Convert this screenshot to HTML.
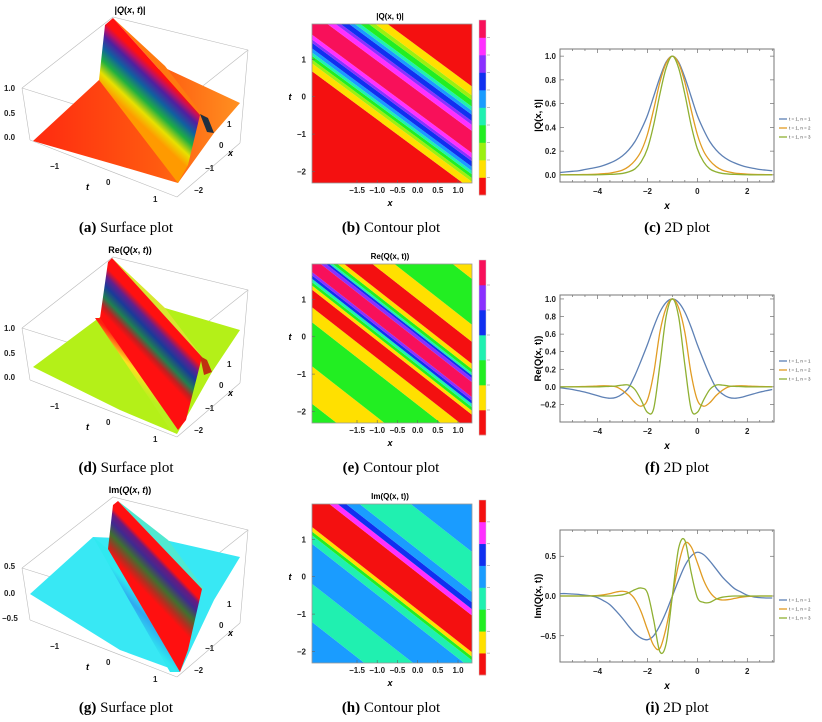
<!DOCTYPE html>
<html><head><meta charset="utf-8"><style>
html,body{margin:0;padding:0;background:#fff;overflow:hidden;width:822px;height:722px;}
svg{display:block;}
svg text{font-family:"Liberation Sans",sans-serif;}
.cap{font-family:"Liberation Serif",serif;font-size:15px;}
.tk{font-size:8px;font-weight:bold;fill:#222;}
</style></head><body>
<svg id="fig" width="822" height="722" viewBox="0 0 822 722" xmlns="http://www.w3.org/2000/svg">
<defs>
<linearGradient id="ridgeA" gradientUnits="userSpaceOnUse" x1="128" y1="112" x2="162" y2="76">
<stop offset="0" stop-color="#ff9a00"/><stop offset="0.2" stop-color="#e8e000"/><stop offset="0.4" stop-color="#20b040"/><stop offset="0.6" stop-color="#1060a0"/><stop offset="0.78" stop-color="#5020a0"/><stop offset="0.9" stop-color="#c01060"/><stop offset="1" stop-color="#ff1010"/></linearGradient>
<linearGradient id="ridgeD" gradientUnits="userSpaceOnUse" x1="140" y1="352" x2="165" y2="328">
<stop offset="0" stop-color="#ff1010"/><stop offset="0.15" stop-color="#c02020"/><stop offset="0.35" stop-color="#208050"/><stop offset="0.6" stop-color="#1a3a9a"/><stop offset="0.8" stop-color="#602090"/><stop offset="1" stop-color="#ff1010"/></linearGradient>
<linearGradient id="ridgeG" gradientUnits="userSpaceOnUse" x1="145" y1="592" x2="170" y2="568">
<stop offset="0" stop-color="#ff1010"/><stop offset="0.2" stop-color="#b03020"/><stop offset="0.45" stop-color="#407030"/><stop offset="0.7" stop-color="#402a90"/><stop offset="0.88" stop-color="#6a1a80"/><stop offset="1" stop-color="#ff1010"/></linearGradient>
<linearGradient id="planeA" x1="0" y1="0" x2="1" y2="0"><stop offset="0" stop-color="#ff2a10"/><stop offset="0.6" stop-color="#ff5a10"/><stop offset="1" stop-color="#ff9020"/></linearGradient>
<linearGradient id="footD" gradientUnits="userSpaceOnUse" x1="118" y1="372" x2="135" y2="352"><stop offset="0" stop-color="#b8f020"/><stop offset="0.5" stop-color="#ffe020"/><stop offset="1" stop-color="#ff2010"/></linearGradient>
<linearGradient id="footG" gradientUnits="userSpaceOnUse" x1="120" y1="615" x2="140" y2="595"><stop offset="0" stop-color="#30e8f0"/><stop offset="0.6" stop-color="#30a8f0"/><stop offset="1" stop-color="#30e8f0"/></linearGradient>
</defs>

<g stroke-linejoin="round">
 <g stroke="#bbb" stroke-width="0.6" fill="none">
  <polyline points="22,88 113,17 248,50 240,143"/><line x1="22" y1="88" x2="30" y2="140"/><line x1="30" y1="140" x2="177" y2="197"/><line x1="177" y1="197" x2="240" y2="143"/><line x1="22" y1="88" x2="150" y2="128"/><line x1="150" y1="128" x2="248" y2="50"/>
 </g>
 <polygon points="33,141 99,80 165,68 240,103 214,133 178,183 120,166" fill="url(#planeA)"/>
 <polygon points="113,18 165,66 205,118 200,115" fill="#ff7a10"/>
 <polygon points="200,114 208,118 214,133 207,132" fill="#203040"/>
 <polygon points="99,80 105,25 113,18 200,115 188,165 178,183" fill="url(#ridgeA)"/>
 <text x="130" y="13" text-anchor="middle" font-size="9" font-weight="bold">|<tspan font-style="italic">Q</tspan>(<tspan font-style="italic">x</tspan>, <tspan font-style="italic">t</tspan>)|</text>
 <g class="tk"><text x="4" y="91">1.0</text><text x="4" y="116">0.5</text><text x="4" y="140">0.0</text>
 <text x="50" y="169">−1</text><text x="106" y="185">0</text><text x="153" y="202">1</text>
 <text x="227" y="127">1</text><text x="219" y="148">0</text><text x="205" y="171">−1</text><text x="194" y="193">−2</text></g>
 <text x="86" y="190" font-size="9" font-weight="bold" font-style="italic">t</text><text x="228" y="156" font-size="9" font-weight="bold" font-style="italic">x</text>
</g>

<g>
 <g stroke="#bbb" stroke-width="0.6" fill="none">
  <polyline points="22,328 113,257 248,290 240,383"/><line x1="22" y1="328" x2="30" y2="380"/><line x1="30" y1="380" x2="177" y2="437"/><line x1="177" y1="437" x2="240" y2="383"/><line x1="22" y1="328" x2="150" y2="368"/><line x1="150" y1="368" x2="248" y2="290"/>
 </g>
 <polygon points="33,367 100,317 165,308 240,330 212,372 177,434 120,410" fill="#b4f018"/>
 <polygon points="112,258 165,308 203,358 200,356" fill="#d8e830"/>
 <polygon points="95,318 103,318 178,430 172,432" fill="url(#footD)"/>
 <polygon points="100,318 108,262 112,258 202,357 186,420 178,430" fill="url(#ridgeD)"/>
 <polygon points="200,356 207,360 212,372 204,375" fill="#c03010"/>
 <text x="130" y="253" text-anchor="middle" font-size="9" font-weight="bold">Re(<tspan font-style="italic">Q</tspan>(<tspan font-style="italic">x</tspan>, <tspan font-style="italic">t</tspan>))</text>
 <g class="tk"><text x="4" y="331">1.0</text><text x="4" y="356">0.5</text><text x="4" y="380">0.0</text>
 <text x="50" y="409">−1</text><text x="106" y="425">0</text><text x="153" y="442">1</text>
 <text x="227" y="367">1</text><text x="219" y="388">0</text><text x="205" y="411">−1</text><text x="194" y="433">−2</text></g>
 <text x="86" y="430" font-size="9" font-weight="bold" font-style="italic">t</text><text x="228" y="396" font-size="9" font-weight="bold" font-style="italic">x</text>
</g>

<g>
 <g stroke="#bbb" stroke-width="0.6" fill="none">
  <polyline points="22,568 113,497 248,530 240,623"/><line x1="22" y1="568" x2="30" y2="620"/><line x1="30" y1="620" x2="177" y2="677"/><line x1="177" y1="677" x2="240" y2="623"/><line x1="22" y1="568" x2="150" y2="608"/><line x1="150" y1="608" x2="248" y2="530"/>
 </g>
 <polygon points="30,594 93,537 165,540 240,557 214,600 180,672 120,650" fill="#38e8f4"/>
 <polygon points="93,537 108,549 180,672 170,672" fill="url(#footG)"/>
 <polygon points="118,501 168,540 205,590 200,588" fill="#50e8d0"/>
 <polygon points="108,549 113,505 118,501 202,589 188,650 180,672" fill="url(#ridgeG)"/>
 <text x="130" y="493" text-anchor="middle" font-size="9" font-weight="bold">Im(<tspan font-style="italic">Q</tspan>(<tspan font-style="italic">x</tspan>, <tspan font-style="italic">t</tspan>))</text>
 <g class="tk"><text x="4" y="569">0.5</text><text x="4" y="596">0.0</text><text x="2" y="621">−0.5</text>
 <text x="50" y="649">−1</text><text x="106" y="665">0</text><text x="153" y="682">1</text>
 <text x="227" y="607">1</text><text x="219" y="628">0</text><text x="205" y="651">−1</text><text x="194" y="673">−2</text></g>
 <text x="86" y="670" font-size="9" font-weight="bold" font-style="italic">t</text><text x="228" y="636" font-size="9" font-weight="bold" font-style="italic">x</text>
</g>

<g id="contours"></g>
<g id="lines"></g>

<g>
 <text class="cap" x="126" y="232" text-anchor="middle"><tspan font-weight="bold">(a)</tspan> Surface plot</text>
 <text class="cap" x="391" y="232" text-anchor="middle"><tspan font-weight="bold">(b)</tspan> Contour plot</text>
 <text class="cap" x="677" y="232" text-anchor="middle"><tspan font-weight="bold">(c)</tspan> 2D plot</text>
 <text class="cap" x="126" y="472" text-anchor="middle"><tspan font-weight="bold">(d)</tspan> Surface plot</text>
 <text class="cap" x="391" y="472" text-anchor="middle"><tspan font-weight="bold">(e)</tspan> Contour plot</text>
 <text class="cap" x="677" y="472" text-anchor="middle"><tspan font-weight="bold">(f)</tspan> 2D plot</text>
 <text class="cap" x="126" y="712" text-anchor="middle"><tspan font-weight="bold">(g)</tspan> Surface plot</text>
 <text class="cap" x="391" y="712" text-anchor="middle"><tspan font-weight="bold">(h)</tspan> Contour plot</text>
 <text class="cap" x="677" y="712" text-anchor="middle"><tspan font-weight="bold">(i)</tspan> 2D plot</text>
</g>
</svg>
<script>
const xGrid = [-5.5,-5.25,-5,-4.75,-4.5,-4.25,-4,-3.75,-3.5,-3.25,-3,-2.75,-2.5,-2.25,-2,-1.75,-1.5,-1.25,-1,-0.75,-0.5,-0.25,0,0.25,0.5,0.75,1,1.25,1.5,1.75,2,2.25,2.5,2.75,3];
const absN1 = [.02,.025,.03,.035,.045,.055,.065,.08,.1,.125,.16,.21,.28,.38,.5,.66,.82,.95,1,.95,.82,.66,.5,.38,.28,.21,.16,.125,.1,.08,.065,.055,.045,.04,.035];
const absN2 = [.001,.001,.002,.002,.003,.004,.006,.01,.015,.025,.04,.07,.12,.2,.34,.55,.78,.94,1,.94,.78,.55,.34,.2,.12,.07,.04,.025,.015,.01,.006,.004,.003,.002,.002];
const absN3 = [0,0,0,0,0,0,.001,.002,.004,.007,.012,.025,.05,.11,.22,.42,.68,.9,1,.9,.68,.42,.22,.11,.05,.025,.012,.007,.004,.002,.001,0,0,0,0];
const reN1 = [-.01,-.02,-.03,-.045,-.06,-.08,-.1,-.12,-.13,-.12,-.08,-.01,.13,.3,.48,.68,.85,.96,1,.96,.85,.68,.48,.3,.13,-.01,-.08,-.12,-.13,-.12,-.1,-.08,-.06,-.045,-.03];
const reN2 = [0,0,.001,.002,.004,.006,.01,.012,.01,0,-.04,-.1,-.18,-.22,-.15,.15,.62,.9,1,.9,.62,.15,-.15,-.22,-.18,-.1,-.04,0,.01,.012,.01,.006,.004,.002,.001];
const reN3 = [0,0,0,0,0,0,0,.003,.005,.01,.02,.02,-.03,-.15,-.29,-.25,.25,.8,1,.8,.25,-.25,-.29,-.15,-.03,.02,.02,.01,.005,.003,0,0,0,0,0];
const imN1 = [.03,.03,.025,.02,.01,0,-.02,-.06,-.11,-.19,-.28,-.38,-.47,-.53,-.55,-.5,-.37,-.2,0,.2,.38,.5,.55,.52,.44,.34,.24,.16,.09,.05,.01,-.01,-.02,-.025,-.025];
const imN2 = [0,0,0,0,0,.002,.006,.015,.03,.05,.06,.04,-.04,-.2,-.42,-.62,-.66,-.4,0,.4,.66,.62,.42,.2,.05,-.03,-.05,-.045,-.03,-.015,-.006,-.002,0,0,0];
const imN3 = [0,0,0,0,0,0,0,0,0,.005,.015,.04,.08,.1,.04,-.3,-.7,-.6,0,.6,.7,.3,-.02,-.08,-.08,-.04,-.015,-.005,0,0,0,0,0,0,0];
const legendLabels = ["t = 1, n = 1","t = 1, n = 2","t = 1, n = 3"];
const xTickVals = [-4,-2,0,2];
const absTicks = [0,0.2,0.4,0.6,0.8,1.0];
const reTicks = [-0.2,0,0.2,0.4,0.6,0.8,1.0];
const imTicks = [-0.5,0,0.5];

const absBreaks = [-1.41,-1.20,-1.10,-1.00,-0.91,-0.80,-0.65,-0.56,-0.43,0.16,0.32,0.42,0.59,0.70,0.81,0.98,1.11,1.35];
const absColors = ["red","yellow","lime","green","cyan","lblue","blue","purple","magenta","pink","magenta","purple","blue","lblue","cyan","green","lime","yellow","red"];
const reBreaks = [-4.0,-3.0,-1.82,-1.42,-0.95,-0.84,-0.75,-0.66,-0.57,-0.48,-0.08,0.03,0.10,0.17,0.27,0.41,1.0,1.46,2.68];
const reColors = ["green","yellow","green","yellow","red","yellow","green","cyan","blue","purple","pink","purple","blue","cyan","green","yellow","red","yellow","green","yellow"];
const imBreaks = [-3.42,-2.4,-1.33,-1.1,-1.0,-0.88,0.1,0.27,0.45,0.73,1.8];
const imColors = ["lblue","cyan","lblue","cyan","green","yellow","red","magenta","blue","lblue","cyan","lblue"];
const absBar = ["red","yellow","lime","green","cyan","lblue","blue","purple","magenta","pink"];
const reBar = ["red","yellow","green","cyan","blue","purple","pink"];
const imBar = ["red","yellow","green","cyan","lblue","blue","magenta","red"];
const cTicksX = [-1.5,-1.0,-0.5,0.0,0.5,1.0];
const cTicksT = [-2,-1,0,1];

const PAL = {red:"#f41010",yellow:"#ffe000",lime:"#9cf010",green:"#22ee22",cyan:"#20f0b0",lblue:"#1a9cff",blue:"#1030f0",purple:"#8a30ff",magenta:"#ff30ff",pink:"#f8105a"};
const NS = "http://www.w3.org/2000/svg";
function mk(tag, attrs, parent){const e=document.createElementNS(NS,tag);for(const k in attrs)e.setAttribute(k,attrs[k]);parent.appendChild(e);return e;}

function clipPoly(pts, x0, y0, x1, y1){
  const edges=[[p=>p[0]>=x0,(a,b)=>{const t=(x0-a[0])/(b[0]-a[0]);return [x0,a[1]+t*(b[1]-a[1])];}],
               [p=>p[0]<=x1,(a,b)=>{const t=(x1-a[0])/(b[0]-a[0]);return [x1,a[1]+t*(b[1]-a[1])];}],
               [p=>p[1]>=y0,(a,b)=>{const t=(y0-a[1])/(b[1]-a[1]);return [a[0]+t*(b[0]-a[0]),y0];}],
               [p=>p[1]<=y1,(a,b)=>{const t=(y1-a[1])/(b[1]-a[1]);return [a[0]+t*(b[0]-a[0]),y1];}]];
  let out=pts;
  for(const [inside,inter] of edges){
    const inp=out; out=[];
    for(let i=0;i<inp.length;i++){
      const cur=inp[i], prev=inp[(i+inp.length-1)%inp.length];
      if(inside(cur)){ if(!inside(prev)) out.push(inter(prev,cur)); out.push(cur); }
      else if(inside(prev)) out.push(inter(prev,cur));
    }
    if(!out.length) break;
  }
  return out;
}

const cg = document.getElementById('contours');
function contour(off, K, breaks, colors, bar, title, name){
  const g = mk('g',{},cg);
  
  
  const X = x => 417.6 + 40.4*x;
  const T = t => off + 96.7 - 37.4*t;
  const xa=-4, xb=3;
  for(let i=0;i<colors.length;i++){
    const lo = i===0 ? -20 : breaks[i-1];
    const hi = i===colors.length-1 ? 20 : breaks[i];
    const raw=[[xa,lo-K*xa],[xb,lo-K*xb],[xb,hi-K*xb],[xa,hi-K*xa]].map(p=>[X(p[0]),T(p[1])]);
    const cp=clipPoly(raw,312,off+24,472,off+183);
    if(cp.length<3) continue;
    const p = mk('polygon',{points:cp.map(q=>q[0].toFixed(1)+','+q[1].toFixed(1)).join(' '),fill:PAL[colors[i]]},g);
    
    
  }
  mk('rect',{x:312,y:off+24,width:160,height:159,fill:'none',stroke:'#999','stroke-width':0.8},g);
  cTicksX.forEach(v=>{const x=X(v);mk('line',{x1:x,y1:off+183,x2:x,y2:off+180,stroke:'#666','stroke-width':0.6},g);
    const t=mk('text',{x:x,y:off+193,'text-anchor':'middle','class':'tk'},g);t.textContent=(v<0?'−':'')+Math.abs(v).toFixed(1);});
  cTicksT.forEach(v=>{const y=T(v);mk('line',{x1:312,y1:y,x2:315,y2:y,stroke:'#666','stroke-width':0.6},g);
    const t=mk('text',{x:306,y:y+3,'text-anchor':'end','class':'tk'},g);t.textContent=(v<0?'−':'')+Math.abs(v);});
  const xl=mk('text',{x:390,y:off+206,'text-anchor':'middle','font-size':9,'font-weight':'bold','font-style':'italic'},g);xl.textContent='x';
  const tl=mk('text',{x:290,y:off+100,'text-anchor':'middle','font-size':9,'font-weight':'bold','font-style':'italic'},g);tl.textContent='t';
  const tt=mk('text',{x:390,y:off+19,'text-anchor':'middle','font-size':8,'font-weight':'bold'},g);tt.textContent=title;
  const bh=175/bar.length;
  bar.forEach((c,i)=>{const r=mk('rect',{x:479,y:off+195-(i+1)*bh,width:7,height:bh+0.3,fill:PAL[c]},g);
    
    
    if(i>0) mk('line',{x1:487,y1:off+195-i*bh,x2:490,y2:off+195-i*bh,stroke:'#999','stroke-width':0.6},g);});
  mk('rect',{x:479,y:off+20,width:7,height:175,fill:'none',stroke:'#ccc','stroke-width':0.5},g);
}
contour(0, 0.8, absBreaks, absColors, absBar, '|Q(x, t)|', 'contour-plot-abs');
contour(240, 0.845, reBreaks, reColors, reBar, 'Re(Q(x, t))', 'contour-plot-real');
contour(480, 0.845, imBreaks, imColors, imBar, 'Im(Q(x, t))', 'contour-plot-imag');

const lg = document.getElementById('lines');
const COLS = ["#5e81b5","#e19c24","#8fb032"];
function crPath(pts){
  let d='M'+pts[0][0].toFixed(2)+','+pts[0][1].toFixed(2);
  for(let i=0;i<pts.length-1;i++){
    const p0=pts[Math.max(0,i-1)],p1=pts[i],p2=pts[i+1],p3=pts[Math.min(pts.length-1,i+2)];
    const c1=[p1[0]+(p2[0]-p0[0])/6,p1[1]+(p2[1]-p0[1])/6],c2=[p2[0]-(p3[0]-p1[0])/6,p2[1]-(p3[1]-p1[1])/6];
    d+=' C'+c1[0].toFixed(2)+','+c1[1].toFixed(2)+' '+c2[0].toFixed(2)+','+c2[1].toFixed(2)+' '+p2[0].toFixed(2)+','+p2[1].toFixed(2);
  }
  return d;
}
function linePanel(fr, yd, yTicks, series, ylab, legY, name){
  const g = mk('g',{},lg);
  
  
  const xd=[-5.5,3.07];
  const X=x=>fr.x0+(x-xd[0])/(xd[1]-xd[0])*(fr.x1-fr.x0);
  const Y=y=>fr.y1-(y-yd[0])/(yd[1]-yd[0])*(fr.y1-fr.y0);
  for(let v=-5;v<=3;v+=0.5){const x=X(v);const major=xTickVals.includes(v);
    mk('line',{x1:x,y1:fr.y1,x2:x,y2:fr.y1-(major?4:2),stroke:'#555','stroke-width':0.6},g);
    mk('line',{x1:x,y1:fr.y0,x2:x,y2:fr.y0+(major?4:2),stroke:'#555','stroke-width':0.6},g);}
  xTickVals.forEach(v=>{const t=mk('text',{x:X(v),y:fr.y1+12,'text-anchor':'middle','class':'tk'},g);t.textContent=(v<0?'−':'')+Math.abs(v);});
  yTicks.forEach(v=>{const y=Y(v);
    mk('line',{x1:fr.x0,y1:y,x2:fr.x0+4,y2:y,stroke:'#555','stroke-width':0.6},g);
    mk('line',{x1:fr.x1,y1:y,x2:fr.x1-4,y2:y,stroke:'#555','stroke-width':0.6},g);
    const t=mk('text',{x:fr.x0-4,y:y+3,'text-anchor':'end','class':'tk'},g);t.textContent=(v<0?'−':'')+Math.abs(v).toFixed(1);});
  const cl='cl'+fr.y0; const cp=mk('clipPath',{id:cl},g); mk('rect',{x:fr.x0,y:fr.y0,width:fr.x1-fr.x0,height:fr.y1-fr.y0},cp);
  series.forEach((s,i)=>{
    const p=mk('path',{d:crPath(xGrid.map((x,j)=>[X(x),Y(s[j])])),fill:'none',stroke:COLS[i],'stroke-width':1.3,'clip-path':'url(#'+cl+')'},g);
    
    
  });
  mk('rect',{x:fr.x0,y:fr.y0,width:fr.x1-fr.x0,height:fr.y1-fr.y0,fill:'none',stroke:'#777','stroke-width':1},g);
  const xl=mk('text',{x:(fr.x0+fr.x1)/2,y:fr.y1+27,'text-anchor':'middle','font-size':10,'font-weight':'bold','font-style':'italic'},g);xl.textContent='x';
  const cy=(fr.y0+fr.y1)/2;
  const yl=mk('text',{x:541,y:cy,'text-anchor':'middle','font-size':9.5,'font-weight':'bold',transform:'rotate(-90 541 '+cy+')'},g);yl.textContent=ylab;
  legendLabels.forEach((lab,i)=>{const y=legY+i*9;
    const le=mk('g',{},g);
    
    
    mk('line',{x1:779,y1:y,x2:787,y2:y,stroke:COLS[i],'stroke-width':1.3},le);
    const t=mk('text',{x:789,y:y+1.5,'font-size':4.5,fill:'#444'},le);t.textContent=lab;});
}
linePanel({x0:560,x1:774,y0:49,y1:182},[-0.06,1.06],absTicks,[absN1,absN2,absN3],'|Q(x, t)|',119,'line-plot-abs');
linePanel({x0:560,x1:774,y0:295,y1:422},[-0.4,1.045],reTicks,[reN1,reN2,reN3],'Re(Q(x, t))',361,'line-plot-real');
linePanel({x0:560,x1:774,y0:530,y1:662},[-0.83,0.83],imTicks,[imN1,imN2,imN3],'Im(Q(x, t))',600,'line-plot-imag');
</script>
</body></html>
